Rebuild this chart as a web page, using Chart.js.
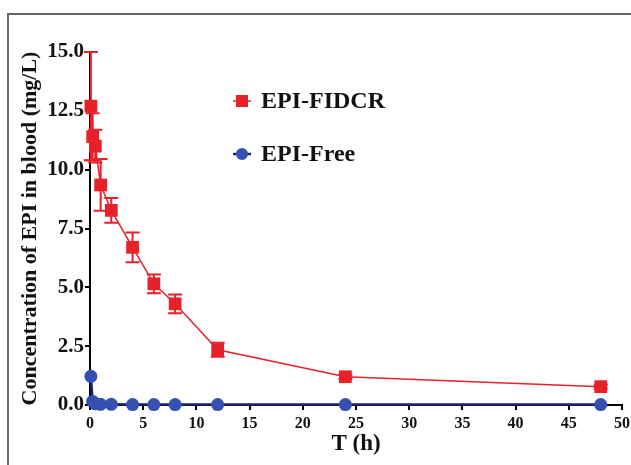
<!DOCTYPE html>
<html>
<head>
<meta charset="utf-8">
<script src="https://cdn.jsdelivr.net/npm/chart.js@4"></script>
<style>
  body { margin: 0; background: #fff; }
  #wrap { position: relative; width: 631px; height: 465px; }
  #frame { position: absolute; left: 7px; top: 13px; right: 0; bottom: 0;
           border-top: 2px solid #666; border-left: 2px solid #666; pointer-events: none; }
  canvas { position: absolute; left: 0; top: 0; }
</style>
</head>
<body>
<div id="wrap">
  <canvas id="pk" width="631" height="465"></canvas>
  <div id="frame"></div>
</div>
<script>
////////////////// Data ///////////////////////
const times = [0.083, 0.25, 0.5, 1, 2, 4, 6, 8, 12, 24, 48];
const fidcrMean = [12.7, 11.4, 11.0, 9.35, 8.27, 6.7, 5.15, 4.3, 2.35, 1.2, 0.78];
const fidcrSd = [2.3, 1.0, 0.7, 1.1, 0.53, 0.63, 0.4, 0.4, 0.3, 0.1, 0.08];
const freeMean = [1.22, 0.15, 0.05, 0.03, 0.03, 0.02, 0.02, 0.02, 0.02, 0.02, 0.02];
const yTicks = [0, 2.5, 5, 7.5, 10, 12.5, 15];
const seriesNames = ["EPI-FIDCR", "EPI-Free"];

const RED = "#e8202a";
const NAVY = "#1c2070";
const BLUE = "#3550b0";
const serif = "'Liberation Serif', 'Times New Roman', serif";

const toPoints = (ys) => times.map((t, i) => ({ x: t, y: ys[i] }));

/// error bars, drawn through the scales, under the markers
const errorBars = {
  id: "errorBars",
  beforeDatasetsDraw(chart) {
    const { ctx, scales } = chart;
    ctx.save();
    ctx.strokeStyle = RED;
    ctx.lineWidth = 2;
    times.forEach((t, i) => {
      const x = scales.x.getPixelForValue(t);
      const yHi = scales.y.getPixelForValue(fidcrMean[i] + fidcrSd[i]);
      const yLo = scales.y.getPixelForValue(fidcrMean[i] - fidcrSd[i]);
      ctx.beginPath();
      ctx.moveTo(x, yHi); ctx.lineTo(x, yLo);
      ctx.moveTo(x - 7, yHi); ctx.lineTo(x + 7, yHi);
      ctx.moveTo(x - 7, yLo); ctx.lineTo(x + 7, yLo);
      ctx.stroke();
    });
    ctx.restore();
  },
};

/// legend placed inside the plot
const innerLegend = {
  id: "innerLegend",
  afterDraw(chart) {
    const { ctx } = chart;
    const rows = [
      { y: 101, line: RED, fill: RED, shape: "rect", lw: 1.5 },
      { y: 154, line: NAVY, fill: BLUE, shape: "circle", lw: 2.5 },
    ];
    ctx.save();
    rows.forEach((r, i) => {
      ctx.strokeStyle = r.line;
      ctx.lineWidth = r.lw;
      ctx.beginPath();
      ctx.moveTo(233, r.y); ctx.lineTo(251, r.y);
      ctx.stroke();
      ctx.fillStyle = r.fill;
      ctx.beginPath();
      if (r.shape === "rect") ctx.rect(236, r.y - 6, 12, 12);
      else ctx.arc(242, r.y, 6, 0, Math.PI * 2);
      ctx.fill();
      ctx.fillStyle = "#111";
      ctx.font = "bold 24px " + serif;
      ctx.textBaseline = "middle";
      ctx.fillText(seriesNames[i], 261, r.y + 1);
    });
    ctx.restore();
  },
};

const ctx = document.getElementById("pk");
const myChart = new Chart(ctx, {
  type: "line",
  data: {
    datasets: [
      {
        label: seriesNames[0],
        data: toPoints(fidcrMean),
        borderColor: RED,
        backgroundColor: RED,
        borderWidth: 1.5,
        pointStyle: "rect",
        pointRadius: 9,
        pointBorderWidth: 0,
        tension: 0,
        clip: false,
        order: 1,
      },
      {
        label: seriesNames[1],
        data: toPoints(freeMean),
        borderColor: NAVY,
        backgroundColor: BLUE,
        borderWidth: 2.5,
        pointStyle: "circle",
        pointRadius: 6.5,
        pointBorderWidth: 0,
        tension: 0,
        clip: false,
        order: 2,
      },
    ],
  },
  options: {
    responsive: false,
    animation: false,
    layout: { padding: { top: 52, right: 7, left: 0, bottom: 0 } },
    scales: {
      x: {
        type: "linear",
        min: 0,
        max: 50,
        grid: { drawOnChartArea: false, color: "#000", lineWidth: 2, tickLength: 5 },
        border: { color: "#000", width: 2 },
        ticks: {
          stepSize: 5,
          color: "#111",
          padding: 4,
          maxRotation: 0,
          font: { family: serif, weight: "bold", size: 16 },
        },
        title: {
          display: true,
          text: "T (h)",
          color: "#111",
          padding: { top: 0, bottom: 7 },
          font: { family: serif, weight: "bold", size: 23 },
        },
        afterFit(scale) {
          scale.height = 60;
          scale.paddingLeft = 0;
          scale.paddingRight = 0;
        },
      },
      y: {
        min: 0,
        max: 15,
        afterBuildTicks(scale) {
          scale.ticks = yTicks.map((v) => ({ value: v }));
        },
        grid: { drawOnChartArea: false, color: "#000", lineWidth: 2, tickLength: 5 },
        border: { color: "#000", width: 2 },
        ticks: {
          color: "#111",
          padding: 1,
          callback: (v) => v.toFixed(1),
          font: { family: serif, weight: "bold", size: 21 },
        },
        title: {
          display: true,
          text: "Concentration of EPI in blood (mg/L)",
          color: "#111",
          padding: { top: 17, bottom: 0 },
          font: { family: serif, weight: "bold", size: 22 },
        },
        afterFit(scale) {
          scale.width = 90;
          scale.paddingTop = 0;
          scale.paddingBottom = 0;
        },
      },
    },
    plugins: {
      legend: { display: false },
      tooltip: { enabled: false },
    },
  },
  plugins: [errorBars, innerLegend],
});
</script>
</body>
</html>
